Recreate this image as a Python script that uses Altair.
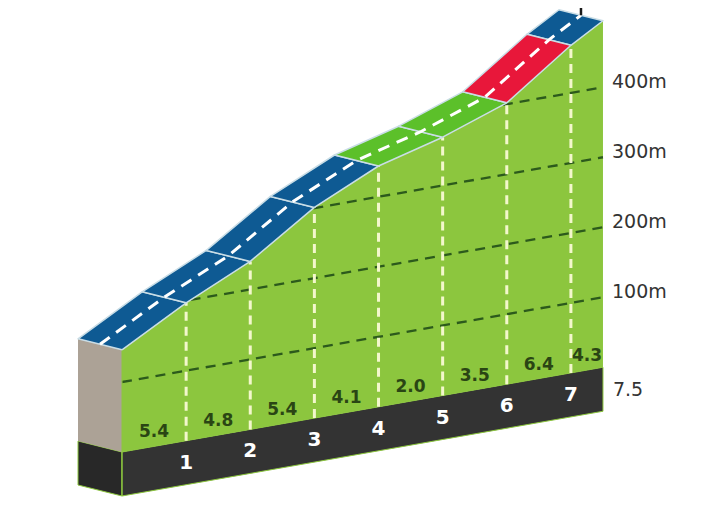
import altair as alt
import numpy as np
import pandas as pd

# ---------------- data ----------------
km = [0, 1, 2, 3, 4, 5, 6, 7, 7.5]                        # distance marks (km)
elev = [146, 197, 240, 301, 344, 369, 402, 468, 495]       # relative elevation (m)
grade = [5.4, 4.8, 5.4, 4.1, 2.0, 3.5, 6.4, 4.3]           # % per segment
road_cat = ["mid", "mid", "mid", "mid", "easy", "easy", "hard", "mid"]
km_ticks = [1, 2, 3, 4, 5, 6, 7]
km_tick_labels = ["1", "2", "3", "4", "5", "6", "7"]
end_label = "7.5"
grid_elev = [100, 200, 300, 400]
grid_labels = ["100m", "200m", "300m", "400m"]

# ---------------- style / oblique projection ----------------
W, H = 701, 490
X0, Y0 = 122, 452           # front-bottom-left corner of the profile face (page px)
PX_KM, SHEAR_KM, PX_M = 64.13, 11.3, 0.70
DX, DY = -44, -11           # depth vector of the road / side face
BASE_T = 44                 # thickness of the black base strip

ROAD_COL = {"mid": "#0e5a93", "easy": "#5cc02a", "hard": "#e8173a"}
FACE_GREEN = "#8cc63e"
GRAY = "#aca296"
BLACK_FRONT = "#333333"
BLACK_SIDE = "#282828"
GRID_COL = "#2c5a1c"
VLINE_COL = "#f3f7cc"
LABEL_GREEN = "#2a4514"
FONT = "DejaVu Sans"


def P(d, e):
    return (X0 + PX_KM * d, Y0 - SHEAR_KM * d - PX_M * e)


def B(d):
    return (X0 + PX_KM * d, Y0 - SHEAR_KM * d)


def add(p, dx, dy):
    return (p[0] + dx, p[1] + dy)


XS = alt.Scale(domain=[8, 8 + W], nice=False, zero=False)
YS = alt.Scale(domain=[8, 8 + H], nice=False, zero=False, reverse=True)


def pts_df(paths):
    rows = []
    for pid, pts in enumerate(paths):
        for o, (x, y) in enumerate(pts):
            rows.append({"pid": pid, "o": o, "x": x, "y": y})
    return pd.DataFrame(rows)


def enc(chart):
    return chart.encode(
        x=alt.X("x:Q", scale=XS, axis=None),
        y=alt.Y("y:Q", scale=YS, axis=None),
        order="o:Q",
        detail="pid:N",
    )


def polygons(paths, fill, stroke=None, sw=0.0):
    closed = [list(p) + [p[0]] for p in paths]
    return enc(alt.Chart(pts_df(closed)).mark_line(
        fill=fill, stroke=stroke if stroke else fill, strokeWidth=sw,
        strokeJoin="round"))


def lines(paths, color, sw, dash=None, cap="butt"):
    kw = dict(stroke=color, strokeWidth=sw, strokeCap=cap)
    if dash:
        kw["strokeDash"] = dash
    return enc(alt.Chart(pts_df(paths)).mark_line(**kw))


def texts(xs, ys, labels, **kw):
    df = pd.DataFrame({"x": xs, "y": ys, "t": labels})
    return alt.Chart(df).mark_text(font=FONT, **kw).encode(
        x=alt.X("x:Q", scale=XS, axis=None),
        y=alt.Y("y:Q", scale=YS, axis=None),
        text="t:N",
    )


fronts = [P(d, e) for d, e in zip(km, elev)]
b0, b1 = B(km[0]), B(km[-1])

layers = []
# black base strip: left side, then front
layers.append(polygons([[b0, add(b0, DX, DY), add(b0, DX, DY + BASE_T), add(b0, 0, BASE_T)]],
                       BLACK_SIDE, FACE_GREEN, 1))
layers.append(polygons([[b0, b1, add(b1, 0, BASE_T), add(b0, 0, BASE_T)]],
                       BLACK_FRONT, FACE_GREEN, 1))
# gray left side of the climb
layers.append(polygons([[fronts[0], add(fronts[0], DX, DY), add(b0, DX, DY), b0]], GRAY))
# green profile face
layers.append(polygons([fronts + [b1, b0]], FACE_GREEN))
# horizontal elevation grid lines (clipped to the profile)
grid_paths = []
for g in grid_elev:
    ds = float(np.interp(g, elev, km))
    grid_paths.append([P(ds, g), P(km[-1], g)])
layers.append(lines(grid_paths, GRID_COL, 2.3, dash=[10, 7]))
# white vertical km lines
v_paths = [[B(d), P(d, float(np.interp(d, km, elev)))] for d in km_ticks]
layers.append(lines(v_paths, VLINE_COL, 3, dash=[9, 6]))
# green/black vertical edge
layers.append(lines([[add(b0, 0, BASE_T), fronts[0]]], FACE_GREEN, 1))

# road segments
for cat in ["mid", "easy", "hard"]:
    segs = []
    for i in range(len(grade)):
        if road_cat[i] != cat:
            continue
        a, b = fronts[i], fronts[i + 1]
        segs.append([a, b, add(b, DX, DY), add(a, DX, DY)])
    layers.append(polygons(segs, ROAD_COL[cat], "#c9dde6", 1.5))
# road centre line
centre = [add(p, DX / 2, DY / 2) for p in fronts]
layers.append(lines([centre], "#ffffff", 3, dash=[12, 8]))
# finish pole
layers.append(lines([[centre[-1], add(centre[-1], 0, -30)]], "#1a1a1a", 2.5))

# gradient labels
mids = [(km[i] + km[i + 1]) / 2 for i in range(len(grade))]
layers.append(texts([B(m)[0] for m in mids], [B(m)[1] - 14 for m in mids],
                    [f"{g:.1f}" for g in grade],
                    fontSize=17, fontWeight="bold", color=LABEL_GREEN,
                    align="center", baseline="middle"))
# km numbers on the base
layers.append(texts([B(d)[0] for d in km_ticks], [B(d)[1] + 22 for d in km_ticks],
                    km_tick_labels, fontSize=20, fontWeight="bold", color="#ffffff",
                    align="center", baseline="middle"))
# right-hand labels
layers.append(texts([b1[0] + 9] * len(grid_elev),
                    [P(km[-1], g)[1] - 5 for g in grid_elev],
                    grid_labels, fontSize=19, color="#333333",
                    align="left", baseline="middle"))
layers.append(texts([b1[0] + 10], [b1[1] + 23], [end_label], fontSize=19,
                    color="#333333", align="left", baseline="middle"))

chart = alt.layer(*layers).properties(
    width=W, height=H,
    autosize=alt.AutoSizeParams(type="none"),
    padding=0,
    background="#ffffff",
).configure_view(stroke=None)

chart.save("out.html", embed_options={"renderer": "svg", "actions": False})
